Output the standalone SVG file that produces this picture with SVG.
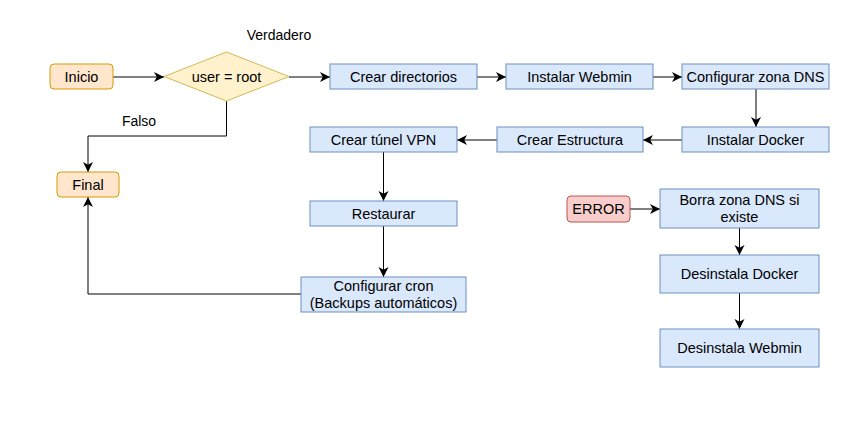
<svg xmlns="http://www.w3.org/2000/svg" width="866" height="431" viewBox="0 0 866 431">
<style>
text{font-family:"Liberation Sans",Arial,sans-serif;font-size:14.5px;fill:#000;text-anchor:middle}
.lbl{font-size:14px}
.blue{fill:#dae8fc;stroke:#6c8ebf;stroke-width:1}
.orange{fill:#ffe6cc;stroke:#d79b00;stroke-width:1}
.yellow{fill:#fff2cc;stroke:#d6b656;stroke-width:1}
.red{fill:#f8cecc;stroke:#b85450;stroke-width:1}
.edge{fill:none;stroke:#000;stroke-width:1;marker-end:url(#arr)}
</style>
<defs>
<marker id="arr" markerUnits="userSpaceOnUse" markerWidth="12" markerHeight="12" refX="10" refY="5.5" orient="auto">
<path d="M0,0.5 L10,5.5 L0,10.5 L2.8,5.5 Z" fill="#000"/>
</marker>
</defs>
<rect width="866" height="431" fill="#fff"/>
<g id="connectors">
<path class="edge" d="M113,77 H164"/>
<path class="edge" d="M289,77 H330"/>
<path class="edge" d="M477,77 H506"/>
<path class="edge" d="M653,77 H682"/>
<path class="edge" d="M756,89 V127"/>
<path class="edge" d="M682,140 H643"/>
<path class="edge" d="M497,140 H457"/>
<path class="edge" d="M383.5,152 V201"/>
<path class="edge" d="M383.5,226 V277"/>
<path class="edge" d="M301,294 H88 V197"/>
<path class="edge" d="M226.5,101 V136 H88 V172"/>
<path class="edge" d="M630,209 H660"/>
<path class="edge" d="M739.5,228 V255"/>
<path class="edge" d="M739.5,293 V329"/>
<text class="lbl" x="279" y="40">Verdadero</text>
<text class="lbl" x="139" y="126">Falso</text>
</g>
<g id="inicio"><rect class="orange" x="50" y="64" width="63" height="25" rx="4"/><text x="81.5" y="82">Inicio</text></g>
<g id="decision"><polygon class="yellow" points="226.5,52 289,76.5 226.5,101 164,76.5"/><text x="226.5" y="82">user = root</text></g>
<g id="crear-directorios"><rect class="blue" x="330" y="64" width="147" height="25"/><text x="403.5" y="82">Crear directorios</text></g>
<g id="instalar-webmin"><rect class="blue" x="506" y="64" width="147" height="25"/><text x="579.5" y="82">Instalar Webmin</text></g>
<g id="configurar-dns"><rect class="blue" x="682" y="64" width="147" height="25"/><text x="755.5" y="82">Configurar zona DNS</text></g>
<g id="instalar-docker"><rect class="blue" x="682" y="127" width="147" height="25"/><text x="755.5" y="145">Instalar Docker</text></g>
<g id="crear-estructura"><rect class="blue" x="497" y="127" width="146" height="25"/><text x="570" y="145">Crear Estructura</text></g>
<g id="crear-vpn"><rect class="blue" x="310" y="127" width="147" height="25"/><text x="383.5" y="145">Crear túnel VPN</text></g>
<g id="restaurar"><rect class="blue" x="310" y="201" width="147" height="25"/><text x="383.5" y="219">Restaurar</text></g>
<g id="configurar-cron"><rect class="blue" x="301" y="277" width="165" height="35"/><text x="383.5" y="291">Configurar cron</text><text x="383.5" y="308">(Backups automáticos)</text></g>
<g id="final"><rect class="orange" x="57" y="172" width="62" height="25" rx="4"/><text x="88" y="190">Final</text></g>
<g id="error"><rect class="red" x="567" y="196" width="63" height="26" rx="4"/><text x="598.5" y="214">ERROR</text></g>
<g id="borra-dns"><rect class="blue" x="660" y="189" width="159" height="39"/><text x="739.5" y="205">Borra zona DNS si</text><text x="739.5" y="222">existe</text></g>
<g id="desinstala-docker"><rect class="blue" x="660" y="255" width="159" height="38"/><text x="739.5" y="279">Desinstala Docker</text></g>
<g id="desinstala-webmin"><rect class="blue" x="660" y="329" width="159" height="38"/><text x="739.5" y="353">Desinstala Webmin</text></g>
</svg>
